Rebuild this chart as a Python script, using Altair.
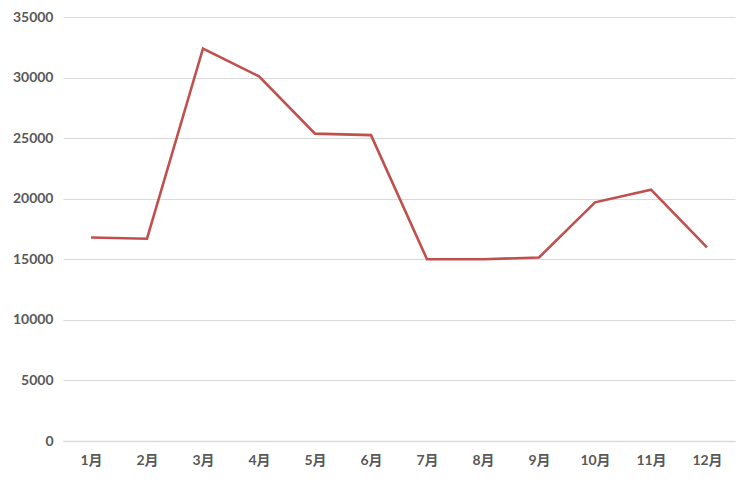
import altair as alt
import pandas as pd

months = ["1月", "2月", "3月", "4月", "5月", "6月", "7月", "8月", "9月", "10月", "11月", "12月"]
values = [16800, 16700, 32400, 30100, 25370, 25250, 15000, 15000, 15150, 19700, 20750, 15980]
y_ticks = [0, 5000, 10000, 15000, 20000, 25000, 30000, 35000]

df = pd.DataFrame({"month": months, "value": values})

XFONT = "Lato, Noto Sans CJK SC"
YFONT = "Lato"

chart = alt.Chart(df).mark_line(color="#C0504D", strokeWidth=2.6).encode(
    x=alt.X("month:N", sort=months,
            scale=alt.Scale(type="point", padding=0.5),
            axis=alt.Axis(title=None, labelAngle=0, ticks=False, grid=False,
                          domainColor="#D9D9D9", domainWidth=1.5,
                          labelFont=XFONT, labelFontSize=14, labelFontWeight="bold",
                          labelColor="#595959", labelPadding=12)),
    y=alt.Y("value:Q", scale=alt.Scale(domain=[0, 35000], nice=False),
            axis=alt.Axis(title=None, values=y_ticks, format="d", ticks=False, domain=False,
                          gridColor="#D9D9D9", gridWidth=1,
                          labelFont=YFONT, labelFontSize=14, labelFontWeight="bold",
                          labelColor="#595959", labelPadding=10)),
).properties(
    width=672, height=424,
    autosize=alt.AutoSizeParams(type="none"),
    padding={"left": 55, "top": 9, "right": 7, "bottom": 34},
).configure_view(stroke=None)

chart.save("out.html", embed_options={"renderer": "svg", "actions": False})
